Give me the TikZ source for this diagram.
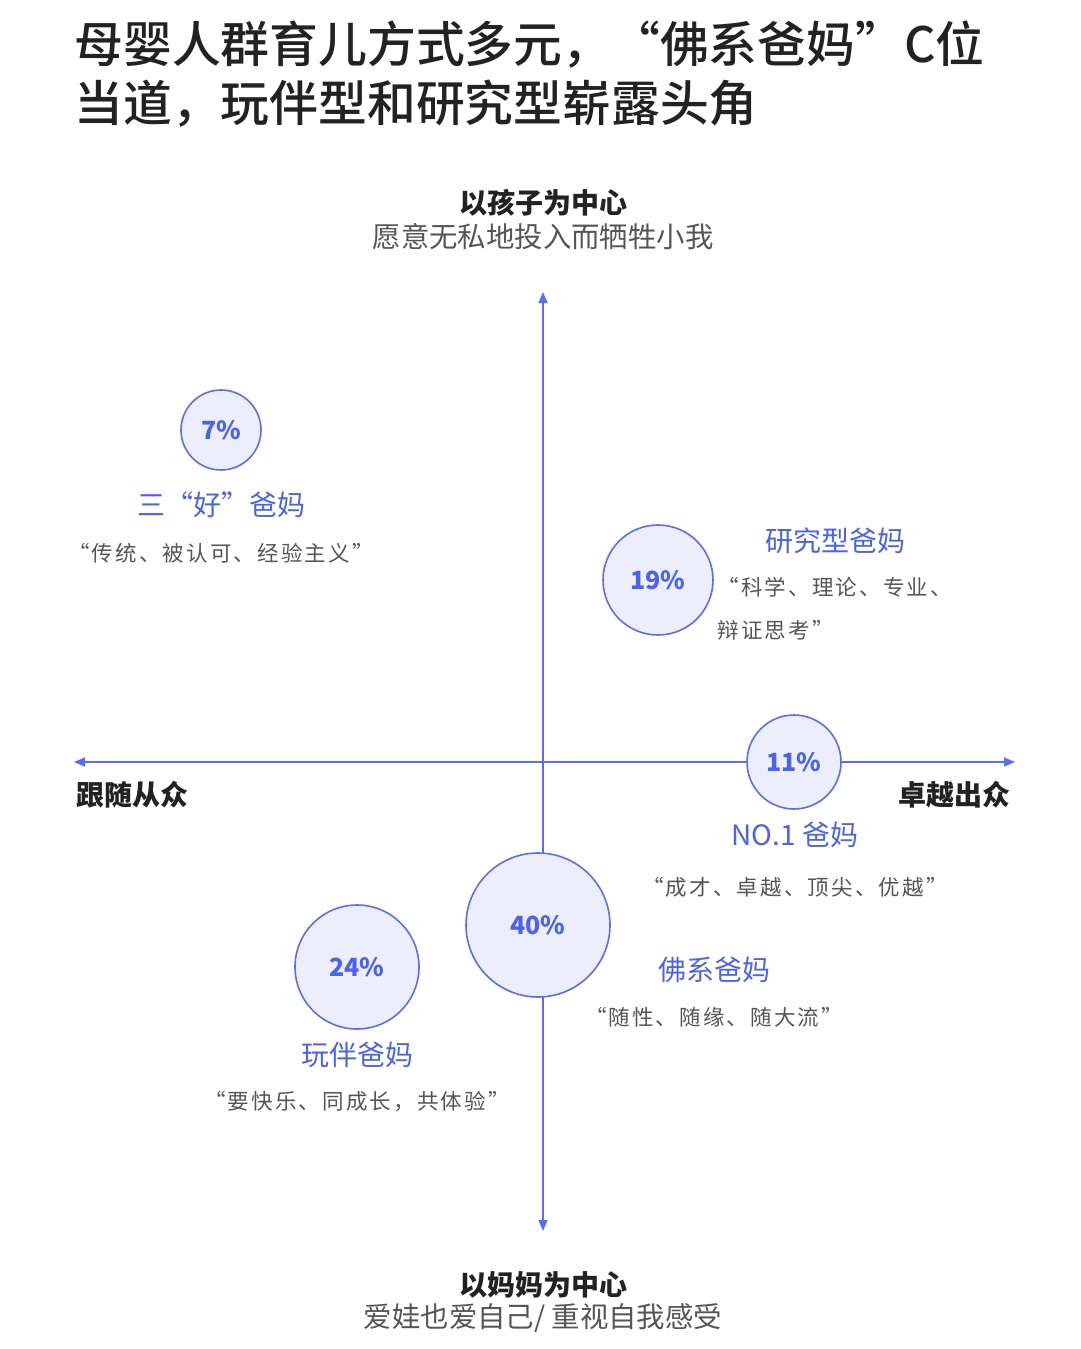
\documentclass[tikz,border=0pt]{standalone}
\usepackage{fontspec}
\setmainfont{Noto Sans CJK SC}
\newfontfamily\titlefont{Noto Sans CJK SC}[UprightFont=* Medium]
\newfontfamily\sayfont{Noto Sans CJK SC}[LetterSpace=10]
\usetikzlibrary{arrows.meta}
\definecolor{axisblue}{HTML}{5A6DF4}
\definecolor{labelblue}{HTML}{4A62EE}
\definecolor{bubblefill}{HTML}{ECEEFB}
\definecolor{quotegray}{HTML}{555555}
\definecolor{titledark}{HTML}{222222}
\tikzset{
  axis/.style={draw=axisblue, line width=1.6pt, {Triangle[length=11pt,width=9pt]}-{Triangle[length=11pt,width=9pt]}},
  bubble/.style={circle, draw=axisblue, line width=1.6pt, fill=bubblefill, text=labelblue,
    font=\fontsize{25}{30}\selectfont\bfseries, inner sep=0pt},
  kind/.style={text=labelblue, font=\fontsize{28}{32}\selectfont},
  saying/.style={text=quotegray, font=\sayfont\fontsize{21.5}{43}\selectfont},
  pole/.style={text=titledark, font=\fontsize{28}{32}\selectfont\bfseries},
  polenote/.style={text=quotegray, font=\fontsize{28.4}{32}\selectfont},
}
\begin{document}
\begin{tikzpicture}[x=1pt, y=-1pt]
  \useasboundingbox (0,0) rectangle (1080,1349);
  % Title
  \node[anchor=north west, align=left, text=titledark, font=\titlefont\fontsize{48.8}{59}\selectfont] (title) at (71,17)
    {母婴人群育儿方式多元，“佛系爸妈”C位\\当道，玩伴型和研究型崭露头角};
  % Axes
  \coordinate (top) at (543,292);
  \coordinate (bottom) at (543,1231);
  \coordinate (left) at (74,762);
  \coordinate (right) at (1015,762);
  \draw[axis] (top) -- (bottom);
  \draw[axis] (left) -- (right);
  % Pole labels
  \node[pole] (childpole) at (543,203) {以孩子为中心};
  \node[polenote] (childnote) at (543,237) {愿意无私地投入而牺牲小我};
  \node[pole] (mompole) at (543,1285) {以妈妈为中心};
  \node[polenote] (momnote) at (543,1318) {爱娃也爱自己/ 重视自我感受};
  \node[pole, anchor=west] (followpole) at (73,795) {跟随从众};
  \node[pole, anchor=east] (excelpole) at (1014,795) {卓越出众};
  % Bubbles
  \node[bubble, minimum size=80pt] (p7) at (221,430) {7\%};
  \node[bubble, minimum size=110pt] (p19) at (658,580) {19\%};
  \node[bubble, minimum size=94pt] (p11) at (794,762) {11\%};
  \node[bubble, minimum size=144pt] (p40) at (538,925) {40\%};
  \node[bubble, minimum size=124pt] (p24) at (357,967) {24\%};
  % Parent types
  \node[kind] (good) at (221,505) {三“好”爸妈};
  \node[saying] (goodsay) at (221,553) {“传统、被认可、经验主义”};
  \node[kind] (research) at (835,541) {研究型爸妈};
  \node[saying, anchor=west, align=left] (researchsay) at (714,609) {“科学、理论、专业、\\辩证思考”};
  \node[kind] (top1) at (795,835) {NO.1 爸妈};
  \node[saying] (top1say) at (795,887) {“成才、卓越、顶尖、优越”};
  \node[kind] (buddha) at (714,970) {佛系爸妈};
  \node[saying] (buddhasay) at (714,1017) {“随性、随缘、随大流”};
  \node[kind] (play) at (357,1055) {玩伴爸妈};
  \node[saying] (playsay) at (357,1102) {“要快乐、同成长，共体验”};
\end{tikzpicture}
\end{document}
